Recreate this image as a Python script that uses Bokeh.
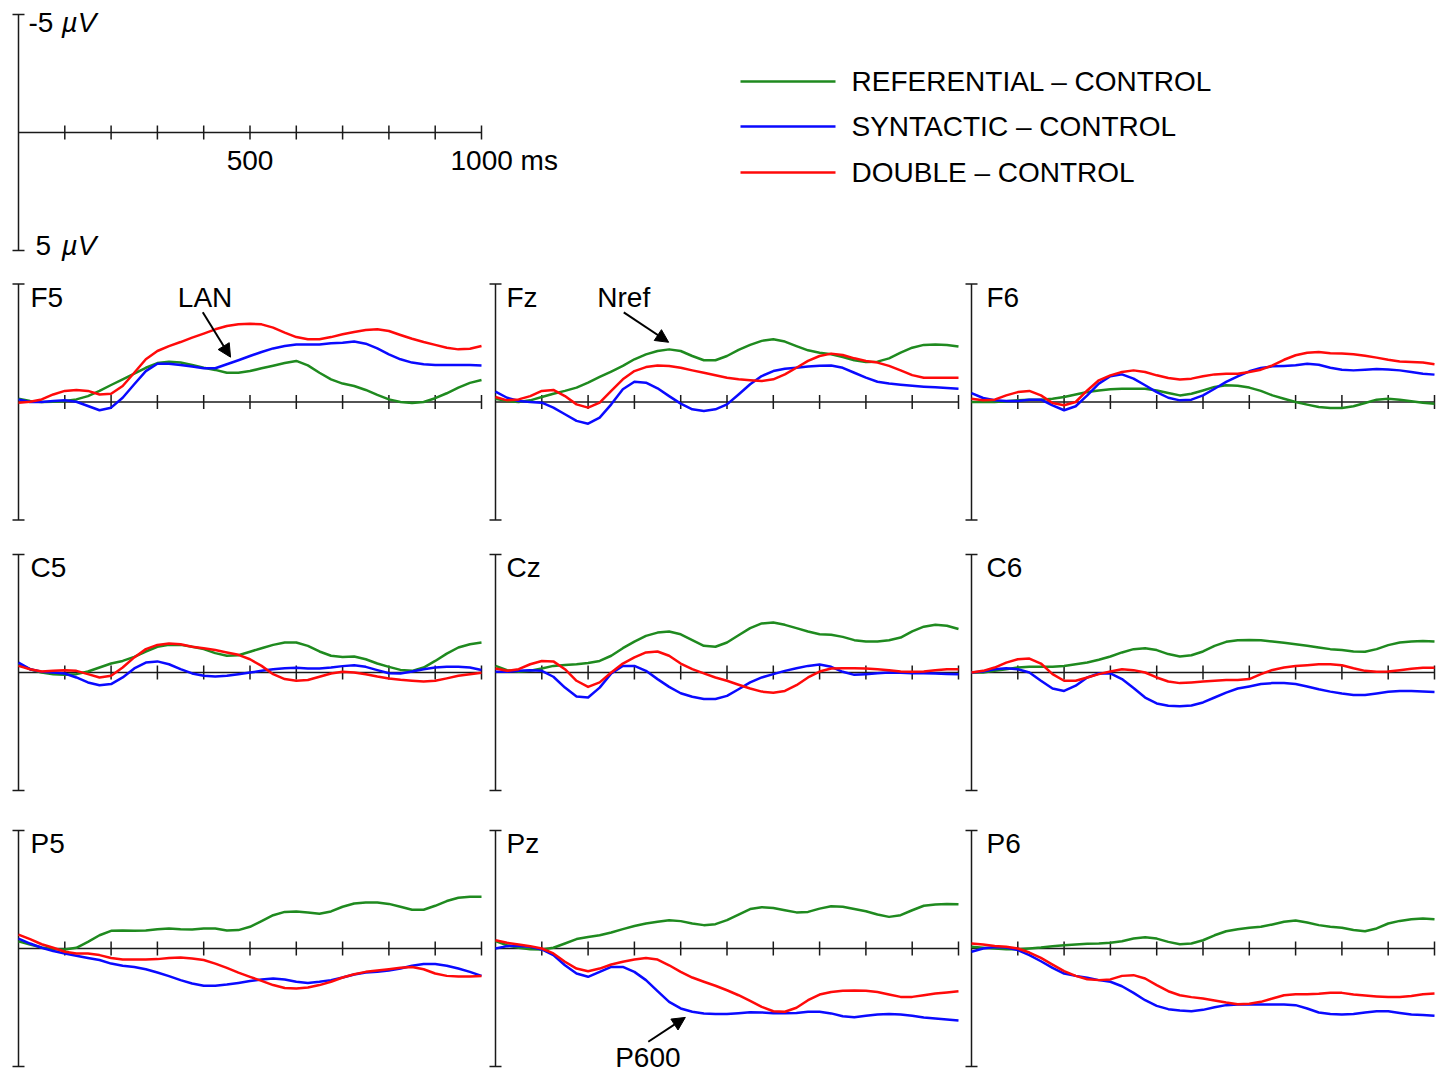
from bokeh.plotting import figure
from bokeh.layouts import column, row
from bokeh.models import Range1d, Arrow, NormalHead
from bokeh.core.properties import value
from bokeh.embed import file_html
from bokeh.resources import INLINE

# ---------------- data ----------------
TIME_MS = list(range(0, 1001, 25))
TICKS_MS = [100, 200, 300, 400, 500, 600, 700, 800, 900, 1000]
SCALE_UV = 5
CONDITIONS = ["REFERENTIAL \u2013 CONTROL", "SYNTACTIC \u2013 CONTROL", "DOUBLE \u2013 CONTROL"]
ELECTRODES = [["F5", "Fz", "F6"], ["C5", "Cz", "C6"], ["P5", "Pz", "P6"]]

F5_REF = [-0.14, -0.04, 0.00, -0.01, -0.04, -0.11, -0.25, -0.47, -0.72, -0.96, -1.20, -1.45, -1.65, -1.71, -1.67, -1.57, -1.45, -1.36, -1.24, -1.24, -1.31, -1.43, -1.54, -1.65, -1.74, -1.55, -1.24, -0.96, -0.78, -0.68, -0.51, -0.30, -0.11, 0.00, 0.04, 0.00, -0.16, -0.37, -0.61, -0.81, -0.93]
F5_SYN = [-0.11, 0.00, 0.00, -0.04, -0.07, -0.01, 0.17, 0.35, 0.24, -0.18, -0.75, -1.31, -1.62, -1.62, -1.57, -1.50, -1.43, -1.43, -1.60, -1.77, -1.95, -2.12, -2.27, -2.37, -2.44, -2.44, -2.44, -2.49, -2.51, -2.56, -2.47, -2.27, -2.02, -1.81, -1.67, -1.60, -1.57, -1.57, -1.57, -1.57, -1.55]
F5_DBL = [0.03, -0.01, -0.11, -0.32, -0.47, -0.51, -0.47, -0.32, -0.35, -0.68, -1.24, -1.81, -2.16, -2.37, -2.54, -2.73, -2.90, -3.08, -3.22, -3.29, -3.32, -3.29, -3.15, -2.94, -2.75, -2.66, -2.66, -2.75, -2.87, -2.97, -3.05, -3.08, -3.01, -2.84, -2.68, -2.54, -2.42, -2.30, -2.23, -2.26, -2.37]

FZ_REF = [-0.14, -0.04, 0.00, -0.07, -0.21, -0.35, -0.47, -0.61, -0.82, -1.06, -1.29, -1.53, -1.81, -2.02, -2.16, -2.23, -2.16, -1.95, -1.77, -1.77, -1.95, -2.21, -2.42, -2.59, -2.66, -2.56, -2.37, -2.19, -2.09, -2.02, -1.91, -1.77, -1.69, -1.71, -1.85, -2.09, -2.30, -2.42, -2.44, -2.42, -2.35]
FZ_SYN = [-0.44, -0.18, -0.04, 0.00, 0.03, 0.24, 0.52, 0.80, 0.92, 0.66, 0.10, -0.54, -0.86, -0.82, -0.58, -0.25, 0.07, 0.31, 0.38, 0.31, 0.10, -0.32, -0.75, -1.10, -1.31, -1.41, -1.45, -1.50, -1.54, -1.55, -1.45, -1.24, -1.03, -0.86, -0.78, -0.73, -0.69, -0.65, -0.62, -0.59, -0.56]
FZ_DBL = [-0.21, -0.07, -0.11, -0.25, -0.47, -0.51, -0.25, 0.10, 0.24, 0.03, -0.47, -0.96, -1.31, -1.48, -1.55, -1.53, -1.45, -1.34, -1.24, -1.13, -1.03, -0.96, -0.92, -0.89, -0.96, -1.17, -1.45, -1.74, -1.95, -2.05, -1.99, -1.85, -1.74, -1.67, -1.53, -1.34, -1.14, -1.03, -1.03, -1.03, -1.03]

F6_REF = [0.00, 0.00, 0.00, -0.03, -0.07, -0.10, -0.10, -0.14, -0.21, -0.32, -0.42, -0.49, -0.54, -0.56, -0.56, -0.56, -0.49, -0.38, -0.28, -0.35, -0.49, -0.64, -0.71, -0.69, -0.61, -0.47, -0.28, -0.14, 0.00, 0.11, 0.21, 0.25, 0.25, 0.18, 0.04, -0.10, -0.14, -0.10, -0.03, 0.03, 0.07]
F6_SYN = [-0.38, -0.17, -0.07, -0.04, -0.04, -0.10, -0.10, 0.14, 0.35, 0.18, -0.28, -0.78, -1.09, -1.17, -0.99, -0.71, -0.42, -0.18, -0.07, -0.10, -0.28, -0.56, -0.85, -1.09, -1.30, -1.44, -1.51, -1.53, -1.56, -1.62, -1.58, -1.45, -1.37, -1.34, -1.37, -1.40, -1.38, -1.34, -1.27, -1.20, -1.16]
F6_DBL = [-0.14, -0.07, -0.10, -0.28, -0.42, -0.47, -0.28, 0.04, 0.14, 0.00, -0.49, -0.92, -1.13, -1.27, -1.34, -1.27, -1.13, -1.02, -0.95, -0.99, -1.09, -1.17, -1.20, -1.20, -1.27, -1.37, -1.55, -1.79, -1.98, -2.09, -2.12, -2.07, -2.05, -2.02, -1.96, -1.88, -1.79, -1.72, -1.69, -1.67, -1.60]

C5_REF = [-0.35, -0.14, 0.00, 0.07, 0.10, 0.07, -0.04, -0.21, -0.38, -0.49, -0.66, -0.89, -1.09, -1.17, -1.17, -1.09, -0.99, -0.82, -0.71, -0.73, -0.88, -1.03, -1.17, -1.27, -1.27, -1.13, -0.89, -0.71, -0.66, -0.68, -0.56, -0.38, -0.24, -0.11, -0.07, -0.21, -0.49, -0.80, -1.06, -1.20, -1.27]
C5_SYN = [-0.42, -0.14, -0.03, 0.00, 0.04, 0.21, 0.42, 0.54, 0.49, 0.21, -0.17, -0.42, -0.47, -0.35, -0.14, 0.04, 0.14, 0.17, 0.14, 0.07, 0.00, -0.07, -0.14, -0.18, -0.20, -0.17, -0.17, -0.21, -0.27, -0.31, -0.24, -0.10, 0.03, 0.04, -0.04, -0.14, -0.21, -0.24, -0.24, -0.21, -0.11]
C5_DBL = [-0.28, -0.14, -0.04, -0.07, -0.10, -0.07, 0.07, 0.21, 0.14, -0.21, -0.64, -0.99, -1.17, -1.23, -1.20, -1.09, -1.03, -0.95, -0.85, -0.75, -0.56, -0.28, 0.07, 0.28, 0.35, 0.32, 0.18, 0.04, -0.03, 0.00, 0.07, 0.17, 0.25, 0.31, 0.35, 0.38, 0.35, 0.25, 0.14, 0.07, 0.01]

CZ_REF = [-0.28, -0.10, -0.03, -0.07, -0.17, -0.28, -0.32, -0.35, -0.40, -0.49, -0.71, -1.03, -1.31, -1.55, -1.69, -1.74, -1.62, -1.37, -1.13, -1.09, -1.27, -1.58, -1.88, -2.08, -2.12, -2.02, -1.88, -1.74, -1.62, -1.60, -1.51, -1.37, -1.31, -1.31, -1.37, -1.48, -1.74, -1.94, -2.02, -1.98, -1.84]
CZ_SYN = [-0.03, -0.03, -0.07, -0.10, -0.07, 0.18, 0.64, 1.02, 1.06, 0.64, 0.04, -0.28, -0.28, -0.07, 0.28, 0.61, 0.88, 1.03, 1.12, 1.12, 0.99, 0.71, 0.42, 0.21, 0.07, -0.07, -0.18, -0.28, -0.34, -0.24, -0.03, 0.10, 0.07, 0.03, 0.00, 0.01, 0.03, 0.03, 0.04, 0.06, 0.07]
CZ_DBL = [-0.17, -0.07, -0.14, -0.35, -0.49, -0.47, -0.14, 0.35, 0.61, 0.42, 0.00, -0.38, -0.64, -0.85, -0.89, -0.71, -0.38, -0.14, 0.04, 0.21, 0.35, 0.52, 0.68, 0.81, 0.86, 0.78, 0.54, 0.21, -0.04, -0.17, -0.18, -0.18, -0.17, -0.14, -0.10, -0.04, -0.03, -0.04, -0.10, -0.14, -0.14]

C6_REF = [0.00, 0.00, -0.07, -0.14, -0.21, -0.24, -0.24, -0.24, -0.28, -0.35, -0.42, -0.54, -0.68, -0.85, -0.99, -1.03, -0.95, -0.78, -0.68, -0.73, -0.89, -1.13, -1.30, -1.37, -1.38, -1.37, -1.31, -1.26, -1.20, -1.13, -1.06, -0.99, -0.95, -0.89, -0.88, -0.99, -1.16, -1.27, -1.31, -1.33, -1.31]
C6_SYN = [0.00, -0.04, -0.14, -0.18, -0.14, 0.00, 0.35, 0.68, 0.78, 0.56, 0.21, 0.04, 0.04, 0.28, 0.66, 1.06, 1.31, 1.41, 1.43, 1.40, 1.27, 1.06, 0.85, 0.68, 0.59, 0.49, 0.45, 0.45, 0.49, 0.59, 0.71, 0.81, 0.89, 0.95, 0.95, 0.89, 0.82, 0.78, 0.78, 0.81, 0.83]
C6_DBL = [0.00, -0.07, -0.21, -0.42, -0.56, -0.59, -0.38, 0.07, 0.35, 0.35, 0.21, 0.07, -0.04, -0.14, -0.10, 0.00, 0.21, 0.38, 0.45, 0.42, 0.38, 0.35, 0.32, 0.32, 0.28, 0.07, -0.11, -0.21, -0.28, -0.31, -0.35, -0.35, -0.31, -0.18, -0.07, -0.03, -0.04, -0.10, -0.16, -0.20, -0.20]

P5_REF = [-0.31, -0.17, -0.04, 0.03, 0.04, -0.03, -0.28, -0.56, -0.75, -0.76, -0.75, -0.76, -0.82, -0.85, -0.82, -0.81, -0.85, -0.85, -0.76, -0.78, -0.92, -1.16, -1.41, -1.55, -1.57, -1.53, -1.47, -1.57, -1.77, -1.91, -1.95, -1.95, -1.89, -1.77, -1.64, -1.64, -1.81, -2.01, -2.15, -2.19, -2.19]
P5_SYN = [-0.42, -0.21, -0.03, 0.11, 0.21, 0.31, 0.40, 0.49, 0.64, 0.73, 0.78, 0.88, 1.02, 1.17, 1.34, 1.48, 1.58, 1.58, 1.53, 1.46, 1.38, 1.31, 1.27, 1.31, 1.41, 1.46, 1.41, 1.34, 1.23, 1.10, 1.02, 0.99, 0.93, 0.85, 0.73, 0.66, 0.66, 0.73, 0.85, 0.99, 1.16]
P5_DBL = [-0.59, -0.40, -0.18, -0.03, 0.14, 0.21, 0.21, 0.28, 0.40, 0.47, 0.47, 0.47, 0.45, 0.40, 0.38, 0.42, 0.49, 0.64, 0.82, 1.02, 1.20, 1.37, 1.55, 1.67, 1.69, 1.65, 1.55, 1.41, 1.23, 1.09, 0.99, 0.93, 0.88, 0.82, 0.78, 0.88, 1.06, 1.16, 1.19, 1.19, 1.17]

PZ_REF = [-0.31, -0.14, -0.03, 0.03, 0.04, -0.03, -0.21, -0.40, -0.49, -0.56, -0.68, -0.82, -0.95, -1.06, -1.13, -1.20, -1.16, -1.06, -0.99, -1.03, -1.20, -1.44, -1.67, -1.75, -1.72, -1.62, -1.53, -1.55, -1.69, -1.79, -1.77, -1.67, -1.58, -1.44, -1.34, -1.41, -1.62, -1.81, -1.86, -1.89, -1.88]
PZ_SYN = [0.00, -0.10, -0.11, -0.07, 0.04, 0.28, 0.71, 1.06, 1.20, 0.99, 0.78, 0.78, 0.99, 1.34, 1.81, 2.26, 2.54, 2.68, 2.75, 2.78, 2.78, 2.74, 2.70, 2.71, 2.74, 2.74, 2.73, 2.68, 2.68, 2.75, 2.87, 2.91, 2.85, 2.80, 2.78, 2.80, 2.85, 2.92, 2.97, 3.01, 3.05]
PZ_DBL = [-0.35, -0.24, -0.17, -0.10, 0.00, 0.21, 0.56, 0.85, 0.96, 0.85, 0.68, 0.56, 0.47, 0.40, 0.47, 0.71, 0.99, 1.23, 1.41, 1.58, 1.77, 1.98, 2.22, 2.47, 2.66, 2.68, 2.51, 2.19, 1.95, 1.84, 1.79, 1.78, 1.79, 1.84, 1.95, 2.05, 2.05, 1.98, 1.91, 1.86, 1.81]

P6_REF = [-0.07, -0.03, 0.00, 0.03, 0.03, 0.00, -0.04, -0.10, -0.14, -0.17, -0.20, -0.21, -0.24, -0.31, -0.42, -0.48, -0.42, -0.28, -0.18, -0.21, -0.35, -0.56, -0.73, -0.82, -0.88, -0.92, -1.02, -1.13, -1.19, -1.10, -0.99, -0.92, -0.88, -0.78, -0.73, -0.85, -1.06, -1.17, -1.24, -1.27, -1.24]
P6_SYN = [0.14, 0.00, -0.06, -0.04, 0.07, 0.28, 0.54, 0.82, 1.06, 1.16, 1.24, 1.34, 1.41, 1.60, 1.88, 2.19, 2.43, 2.57, 2.63, 2.66, 2.60, 2.49, 2.40, 2.37, 2.37, 2.37, 2.37, 2.37, 2.40, 2.54, 2.71, 2.78, 2.80, 2.78, 2.71, 2.66, 2.66, 2.73, 2.80, 2.82, 2.85]
P6_DBL = [-0.21, -0.17, -0.11, -0.07, 0.00, 0.17, 0.40, 0.68, 0.96, 1.16, 1.30, 1.34, 1.31, 1.16, 1.13, 1.27, 1.55, 1.81, 1.98, 2.06, 2.12, 2.20, 2.29, 2.36, 2.34, 2.26, 2.12, 1.98, 1.94, 1.94, 1.92, 1.88, 1.88, 1.95, 1.99, 2.03, 2.06, 2.06, 2.01, 1.94, 1.91]

WAVES = {
    "F5": (F5_REF, F5_SYN, F5_DBL), "Fz": (FZ_REF, FZ_SYN, FZ_DBL), "F6": (F6_REF, F6_SYN, F6_DBL),
    "C5": (C5_REF, C5_SYN, C5_DBL), "Cz": (CZ_REF, CZ_SYN, CZ_DBL), "C6": (C6_REF, C6_SYN, C6_DBL),
    "P5": (P5_REF, P5_SYN, P5_DBL), "Pz": (PZ_REF, PZ_SYN, PZ_DBL), "P6": (P6_REF, P6_SYN, P6_DBL),
}

# ---------------- styling / layout ----------------
COLORS = ["#1f8a1f", "#0a0aff", "#ff0a0a"]
FONT = "Liberation Sans"
FS = "28px"
AX = "#1a1a1a"
LW = 2.5
PX_PER_MS = 0.463
PX_PER_UV = 23.6
COL_W = [485, 476, 479]
COL_AXIS = [18, 10, 10]
ROW_H = [270, 274, 263]
ROW_ZERO = [133.5, 134, 136]
LABEL_DX = [12, 11, 15]
TOP_H = 268
TOP_ZERO = 132
TOP_W = sum(COL_W)


def make_fig(width, height, zero_from_top, axis_left):
    xr = Range1d(-axis_left / PX_PER_MS, (width - axis_left) / PX_PER_MS)
    yr = Range1d((height - zero_from_top) / PX_PER_UV, -zero_from_top / PX_PER_UV)
    p = figure(width=width, height=height, x_range=xr, y_range=yr,
               output_backend="svg", toolbar_location=None,
               x_axis_type=None, y_axis_type=None, min_border=0)
    p.outline_line_color = None
    p.background_fill_color = "white"
    p.border_fill_color = "white"
    return p


def draw_axes(p):
    cap = 6 / PX_PER_MS
    tk = 7 / PX_PER_UV
    p.segment(x0=[0], y0=[-SCALE_UV], x1=[0], y1=[SCALE_UV], line_color=AX, line_width=1.5)
    p.segment(x0=[-cap, -cap], y0=[-SCALE_UV, SCALE_UV], x1=[cap, cap], y1=[-SCALE_UV, SCALE_UV],
              line_color=AX, line_width=1.5)
    p.segment(x0=[0], y0=[0], x1=[TICKS_MS[-1]], y1=[0], line_color=AX, line_width=1.5)
    n = len(TICKS_MS)
    p.segment(x0=TICKS_MS, y0=[-tk] * n, x1=TICKS_MS, y1=[tk] * n, line_color=AX, line_width=1.5)


def add_text(p, x, y, txt, align="left", style="normal", x_offset=0):
    p.text(x=[x], y=[y], text=[txt], text_font=value(FONT), text_font_size=FS,
           text_align=align, text_baseline="middle", text_color="black",
           text_font_style=style, x_offset=x_offset)


def add_arrow(p, xs, ys, xe, ye):
    p.add_layout(Arrow(end=NormalHead(size=13, fill_color="black", line_color="black"),
                       x_start=xs, y_start=ys, x_end=xe, y_end=ye,
                       line_color="black", line_width=2))


# top: scale + legend
top = make_fig(TOP_W, TOP_H, TOP_ZERO, COL_AXIS[0])
draw_axes(top)
add_text(top, 10 / PX_PER_MS, -110 / PX_PER_UV, "-5")
add_text(top, 43 / PX_PER_MS, -110 / PX_PER_UV, "\u00b5V", style="italic")
add_text(top, 17 / PX_PER_MS, 113 / PX_PER_UV, "5")
add_text(top, 43 / PX_PER_MS, 113 / PX_PER_UV, "\u00b5V", style="italic")
add_text(top, 500, 28 / PX_PER_UV, "500", align="center")
add_text(top, 1000, 28 / PX_PER_UV, "1000 ms", x_offset=-31)

LEG_X0 = 722 / PX_PER_MS
LEG_X1 = 817 / PX_PER_MS
LEG_TX = 833 / PX_PER_MS
LEG_Y = [-51 / PX_PER_UV, -6 / PX_PER_UV, 40 / PX_PER_UV]
for cond, col, ly in zip(CONDITIONS, COLORS, LEG_Y):
    top.line(x=[LEG_X0, LEG_X1], y=[ly, ly], line_color=col, line_width=LW)
    add_text(top, LEG_TX, ly, cond)

LABEL_Y = -105 / PX_PER_UV
rows = [top]
panels = {}
for r, names in enumerate(ELECTRODES):
    figs = []
    for c, name in enumerate(names):
        p = make_fig(COL_W[c], ROW_H[r], ROW_ZERO[r], COL_AXIS[c])
        draw_axes(p)
        for series, col in zip(WAVES[name], COLORS):
            p.line(x=TIME_MS, y=series, line_color=col, line_width=LW, line_join="round")
        add_text(p, LABEL_DX[c] / PX_PER_MS, LABEL_Y, name)
        panels[name] = p
        figs.append(p)
    rows.append(row(*figs, spacing=0))

# component annotations
add_text(panels["F5"], 403, LABEL_Y, "LAN", align="center")
add_arrow(panels["F5"], 398, -3.80, 458, -1.90)
add_text(panels["Fz"], 277, LABEL_Y, "Nref", align="center")
add_arrow(panels["Fz"], 277, -3.80, 374, -2.53)
add_text(panels["Pz"], 329, 4.60, "P600", align="center")
add_arrow(panels["Pz"], 330, 3.95, 410, 2.92)

layout = column(*rows, spacing=0)
open("out.html", "w").write(file_html(layout, INLINE))
